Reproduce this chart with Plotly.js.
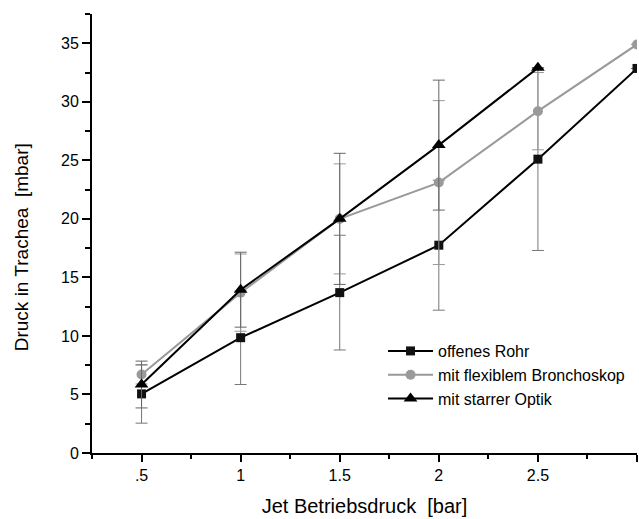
<!DOCTYPE html>
<html>
<head>
<meta charset="utf-8">
<script src="https://cdn.plot.ly/plotly-3.0.1.min.js"></script>
<style>html,body{margin:0;padding:0;background:#fff;}#chart{width:639px;height:519px;}</style>
</head>
<body>
<div id="chart"></div>
<script>
// Jet Betriebsdruck [bar]
const jetDruck = [0.5, 1, 1.5, 2, 2.5, 3];
const jetDruckStarr = [0.5, 1, 1.5, 2, 2.5];

// Druck in Trachea [mbar]
const offenesRohr = [5.05, 9.85, 13.7, 17.75, 25.1, 32.85];
const offenesRohrSD = [2.5, 4.0, 4.9, 5.55, 7.8, 0];

const flexBronchoskop = [6.7, 13.7, 20.0, 23.1, 29.2, 34.9];
const flexBronchoskopSD = [0.8, 3.3, 4.7, 7.0, 3.3, 0];

const starreOptik = [5.85, 13.95, 20.0, 26.3, 32.9];
const starreOptikSD = [2.0, 3.2, 5.6, 5.55, 0];

const xTickVals = [0.5, 1, 1.5, 2, 2.5, 3];
const xTickText = ['.5', '1', '1.5', '2', '2.5', ''];

const names = ['offenes Rohr', 'mit flexiblem Bronchoskop', 'mit starrer Optik'];
const xTitle = 'Jet Betriebsdruck  [bar]';
const yTitle = 'Druck in Trachea  [mbar]';

const traces = [
  {
    x: jetDruck, y: offenesRohr, name: names[0], type: 'scatter', mode: 'lines+markers',
    line: {color: '#000', width: 2},
    marker: {symbol: 'square', size: 9, color: '#111'},
    error_y: {type: 'data', array: offenesRohrSD, visible: true, color: '#777', thickness: 1, width: 6}
  },
  {
    x: jetDruck, y: flexBronchoskop, name: names[1], type: 'scatter', mode: 'lines+markers',
    line: {color: '#999', width: 2},
    marker: {symbol: 'circle', size: 10, color: '#9a9a9a'},
    error_y: {type: 'data', array: flexBronchoskopSD, visible: true, color: '#999', thickness: 1, width: 6}
  },
  {
    x: jetDruckStarr, y: starreOptik, name: names[2], type: 'scatter', mode: 'lines+markers',
    line: {color: '#000', width: 2},
    marker: {symbol: 'triangle-up', size: 12, color: '#000'},
    error_y: {type: 'data', array: starreOptikSD, visible: true, color: '#666', thickness: 1, width: 6}
  }
];

const fontFam = 'Liberation Sans, Arial, sans-serif';

const layout = {
  width: 639, height: 519,
  margin: {l: 92, r: 2, t: 14, b: 66},
  paper_bgcolor: '#fff', plot_bgcolor: '#fff',
  font: {family: fontFam, color: '#000', size: 16},
  showlegend: true,
  legend: {
    x: 0.534, y: 0.271, xanchor: 'left', yanchor: 'top',
    font: {family: fontFam, size: 16, color: '#000'},
    bgcolor: 'rgba(0,0,0,0)', tracegroupgap: 0, itemwidth: 45
  },
  xaxis: {
    range: [0.25, 3.0], showgrid: false, zeroline: false,
    showline: true, linecolor: '#000', linewidth: 2,
    ticks: 'outside', ticklen: 7, tickwidth: 2, tickcolor: '#000',
    tickvals: xTickVals, ticktext: xTickText,
    tickfont: {size: 16},
    minor: {dtick: 0.25, tick0: 0.25, ticks: 'outside', ticklen: 4, tickwidth: 2, tickcolor: '#000', showgrid: false},
    title: {text: xTitle, font: {size: 20}, standoff: 16}
  },
  yaxis: {
    range: [0, 37.5], showgrid: false, zeroline: false,
    showline: true, linecolor: '#000', linewidth: 2,
    ticks: 'outside', ticklen: 8, tickwidth: 2, tickcolor: '#000',
    dtick: 5, tick0: 0, tickfont: {size: 16},
    minor: {dtick: 2.5, ticks: 'outside', ticklen: 5, tickwidth: 2, tickcolor: '#000', showgrid: false}
  },
  annotations: [{
    text: yTitle, textangle: -90, showarrow: false,
    xref: 'paper', yref: 'paper', x: -0.130, y: 0.469,
    xanchor: 'center', yanchor: 'middle',
    font: {family: fontFam, size: 19, color: '#000'}
  }]
};

Plotly.newPlot('chart', traces, layout, {displayModeBar: false, staticPlot: true});
</script>
</body>
</html>
